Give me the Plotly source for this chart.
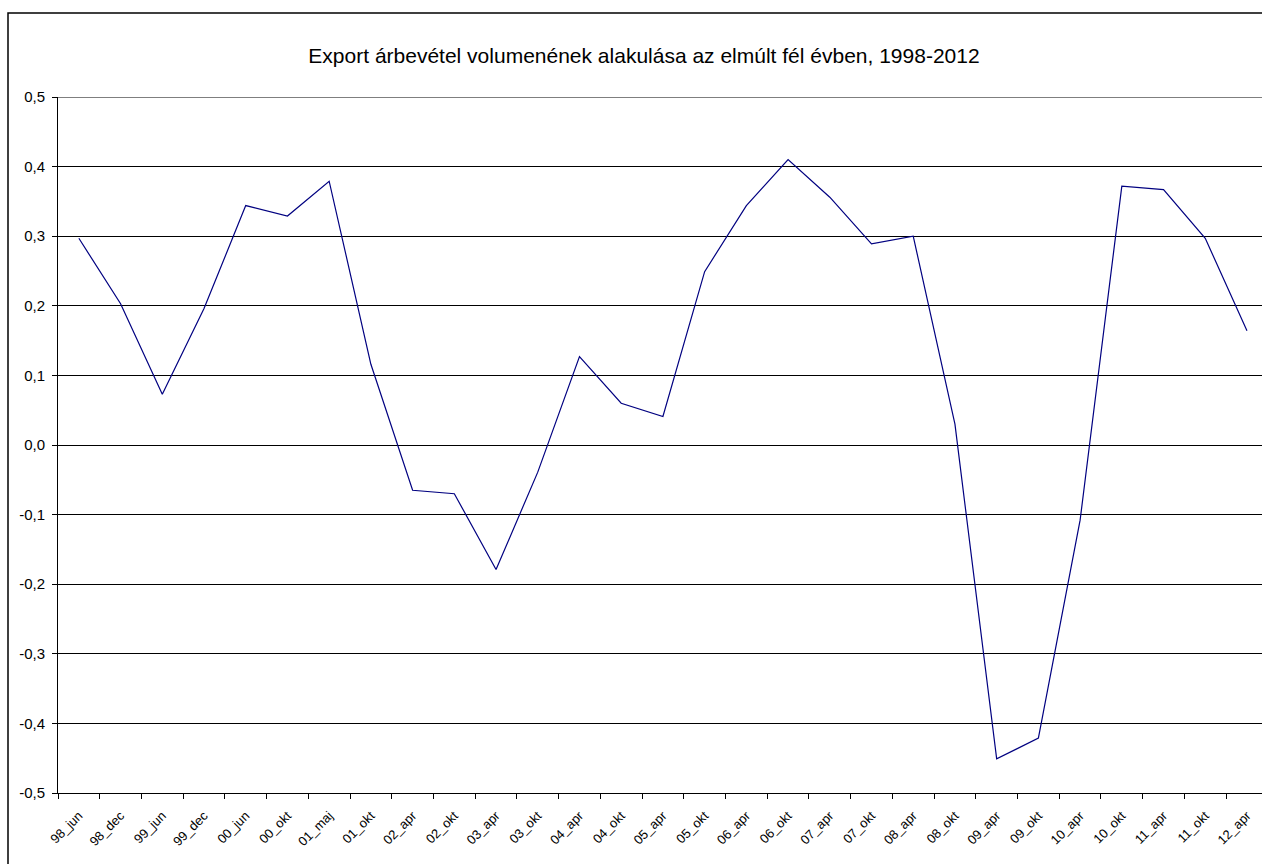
import plotly.graph_objects as go

# Half-year periods and export revenue volume balance
periods = [
    "98_jun", "98_dec", "99_jun", "99_dec", "00_jun", "00_okt", "01_maj", "01_okt",
    "02_apr", "02_okt", "03_apr", "03_okt", "04_apr", "04_okt", "05_apr", "05_okt",
    "06_apr", "06_okt", "07_apr", "07_okt", "08_apr", "08_okt", "09_apr", "09_okt",
    "10_apr", "10_okt", "11_apr", "11_okt", "12_apr",
]
export_volume = [
    0.297, 0.203, 0.073, 0.196, 0.344, 0.329, 0.379, 0.116,
    -0.065, -0.070, -0.179, -0.039, 0.127, 0.060, 0.041, 0.249,
    0.344, 0.410, 0.356, 0.289, 0.300, 0.030, -0.451, -0.421,
    -0.108, 0.372, 0.367, 0.297, 0.164,
]

y_ticks = [-0.5, -0.4, -0.3, -0.2, -0.1, 0.0, 0.1, 0.2, 0.3, 0.4, 0.5]
y_tick_text = ["-0,5", "-0,4", "-0,3", "-0,2", "-0,1", "0,0", "0,1", "0,2", "0,3", "0,4", "0,5"]

title_text = "Export árbevétel volumenének alakulása az elmúlt fél évben, 1998-2012"

fig = go.Figure()
fig.add_trace(go.Scatter(
    x=periods,
    y=export_volume,
    mode="lines",
    line=dict(color="#000080", width=1.2),
    showlegend=False,
    hoverinfo="x+y",
))

W, H = 1262, 864
fig.update_layout(
    width=W,
    height=H,
    margin=dict(l=58, r=0, t=97, b=71),
    paper_bgcolor="white",
    plot_bgcolor="white",
    font=dict(family="Liberation Sans, Arial, sans-serif", color="black"),
    title=dict(
        text=title_text,
        x=644 / W,
        xanchor="center",
        y=1 - 56 / H,
        yanchor="middle",
        font=dict(size=21, color="black"),
    ),
    xaxis=dict(
        type="category",
        range=[-0.5, 28.36],
        showgrid=False,
        showline=True,
        linecolor="black",
        linewidth=1,
        ticks="outside",
        tickson="boundaries",
        ticklen=5,
        tickcolor="black",
        tickangle=-45,
        ticklabelstandoff=9,
        tickfont=dict(size=13, color="black"),
        zeroline=False,
    ),
    yaxis=dict(
        range=[-0.5, 0.5],
        tickvals=y_ticks,
        ticktext=y_tick_text,
        showgrid=True,
        gridcolor="black",
        gridwidth=1,
        showline=True,
        linecolor="black",
        linewidth=1,
        ticks="outside",
        ticklen=5,
        tickcolor="black",
        ticklabelstandoff=4,
        tickfont=dict(size=15, color="black"),
        zeroline=False,
    ),
    shapes=[
        # outer chart frame (runs past the right and bottom edges)
        dict(
            type="rect",
            xref="paper",
            yref="paper",
            x0=(8 - 58) / (W - 58),
            x1=2,
            y0=-0.5,
            y1=1 + (97 - 13) / (H - 97 - 71),
            line=dict(color="black", width=1.5),
            fillcolor="rgba(0,0,0,0)",
            layer="below",
        ),
        # gridline at the top of the value axis
        dict(
            type="line",
            xref="paper",
            yref="y",
            x0=0,
            x1=1,
            y0=y_ticks[-1],
            y1=y_ticks[-1],
            line=dict(color="black", width=1),
            layer="below",
        ),
    ],
)

fig.write_html("out.html")
